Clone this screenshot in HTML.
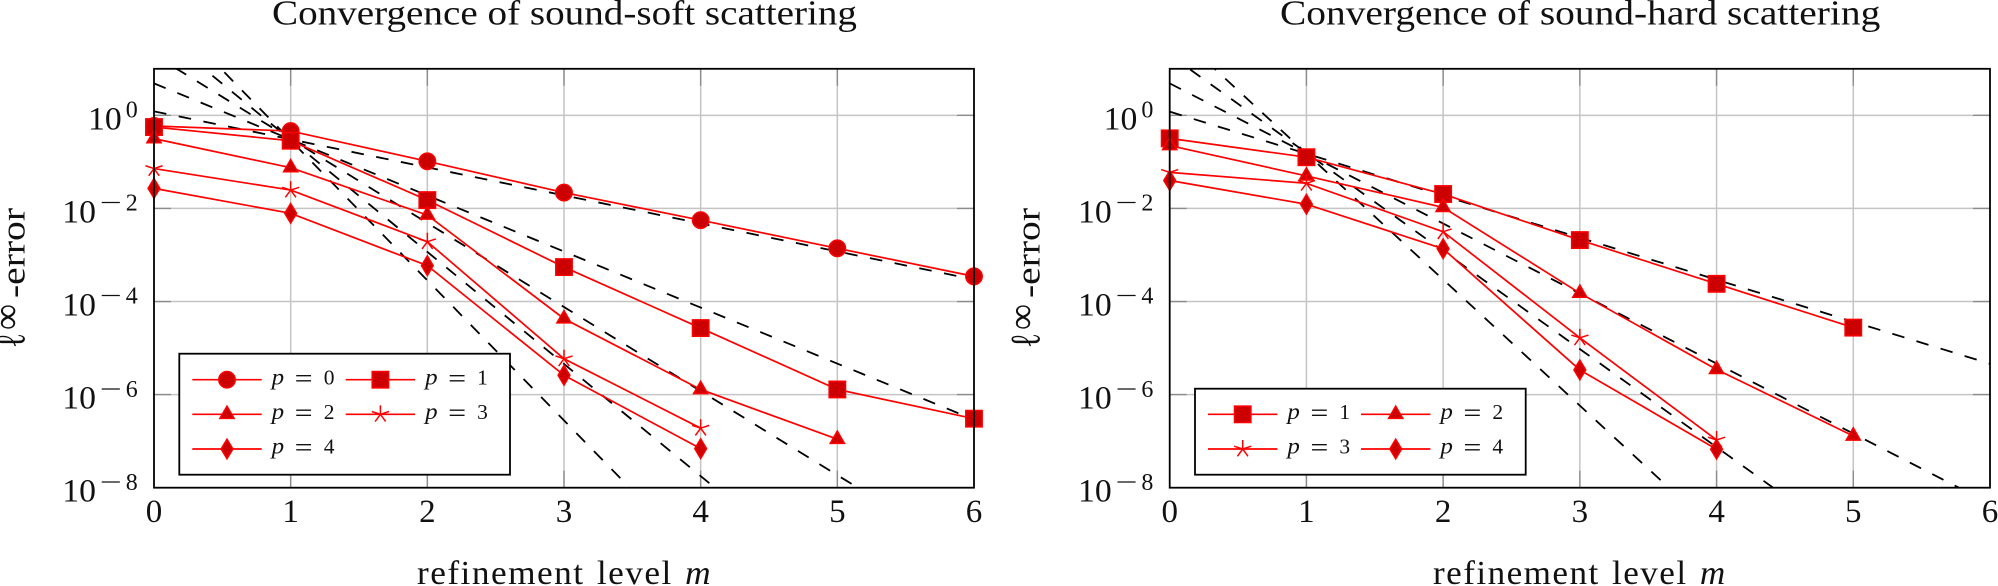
<!DOCTYPE html>
<html lang="en">
<head>
<meta charset="utf-8">
<title>Convergence of scattering</title>
<style>
html,body{margin:0;padding:0;background:#fff;overflow:hidden;}
body{width:1998px;height:586px;position:relative;}
svg{display:block;}
text{font-family:"Liberation Serif","DejaVu Serif",serif;fill:#111;}
.xtitle{position:absolute;top:558px;height:22.5px;padding-top:5.5px;overflow:hidden;line-height:20px;white-space:nowrap;font-family:"Liberation Serif","DejaVu Serif",serif;font-size:34px;color:#111;letter-spacing:1.4px;word-spacing:2px;transform-origin:0 50%;}
.xtitle span{display:inline-block;height:20px;line-height:20px;font-style:italic;}
</style>
</head>
<body>
<svg id="figure" xmlns="http://www.w3.org/2000/svg" width="1998" height="586" viewBox="0 0 1998 586"></svg>
<script>
// Shared axis data
const xTicks = [0, 1, 2, 3, 4, 5, 6];
const yTickExponents = [0, -2, -4, -6, -8];
const yDecadeMax = 1;
const yDecadeMin = -8;
const xMax = 6;

// Sound-soft scattering: error by refinement level
const softP0 = [5.9e-1, 4.6e-1, 1.03e-1, 2.19e-2, 5.6e-3, 1.39e-3, 3.47e-4];
const softP1 = [5.6e-1, 2.85e-1, 1.51e-2, 5.5e-4, 2.69e-5, 1.29e-6, 3.04e-7];
const softP2 = [3.16e-1, 7.5e-2, 7.2e-3, 4.27e-5, 1.29e-6, 1.10e-7];
const softP3 = [7.2e-2, 2.48e-2, 1.93e-3, 5.9e-6, 1.9e-7];
const softP4 = [2.7e-2, 7.85e-3, 5.9e-4, 2.6e-6, 6.9e-8];
// Sound-soft reference rates: value at level 0 and at level 6
const softRefStart = [1.22, 4.86, 19.95, 76.2, 298.5];
const softRefEnd = [2.98e-4, 2.9e-7, 2.91e-10, 2.72e-13, 2.6e-16];

// Sound-hard scattering: error by refinement level
const hardP1 = [3.2e-1, 1.26e-1, 2.04e-2, 2.09e-3, 2.4e-4, 2.75e-5];
const hardP2 = [2.24e-1, 5.0e-2, 1.05e-2, 1.51e-4, 3.47e-6, 1.29e-7];
const hardP3 = [5.96e-2, 3.47e-2, 3.16e-3, 1.66e-5, 1.06e-7];
const hardP4 = [3.98e-2, 1.23e-2, 1.36e-3, 3.39e-6, 6.7e-8];
// Sound-hard reference rates: value at level 0 and at level 6
const hardRefStart = [1.2, 4.86, 19.95, 77.6];
const hardRefEnd = [4.6e-6, 4.54e-9, 4.55e-12, 4.33e-15];

const NS = 'http://www.w3.org/2000/svg';
const RED = '#ff0000';
const FILL = '#cc0000';
const root = document.getElementById('figure');

function mk(parent, tag, attrs, txt) {
  const el = document.createElementNS(NS, tag);
  for (const k in attrs) el.setAttribute(k, attrs[k]);
  if (txt !== undefined) el.textContent = txt;
  parent.appendChild(el);
  return el;
}

function drawMarker(parent, kind, x, y) {
  const g = mk(parent, 'g', {fill: FILL, stroke: RED, 'stroke-width': 1.5});
  
  
  const r = 8.2;
  if (kind === 'circle') {
    mk(g, 'circle', {cx: x, cy: y, r: r});
  } else if (kind === 'square') {
    mk(g, 'rect', {x: x - r, y: y - r, width: 2 * r, height: 2 * r});
  } else if (kind === 'triangle') {
    const tx = r * 0.866;
    mk(g, 'polygon', {points: x + ',' + (y - r) + ' ' + (x + tx) + ',' + (y + r / 2) + ' ' + (x - tx) + ',' + (y + r / 2)});
  } else if (kind === 'diamond') {
    const dx = r * 0.72;
    const dy = r * 1.2;
    mk(g, 'polygon', {points: x + ',' + (y - dy) + ' ' + (x + dx) + ',' + y + ' ' + x + ',' + (y + dy) + ' ' + (x - dx) + ',' + y});
  } else {
    const arm = 9;
    for (let i = 0; i < 5; i++) {
      const a = (-90 + 72 * i) * Math.PI / 180;
      mk(g, 'line', {x1: x, y1: y, x2: x + arm * Math.cos(a), y2: y + arm * Math.sin(a), stroke: RED});
    }
  }
}

function drawPlot(cfg) {
  const plot = mk(root, 'g', {});
  
  

  const sx = v => cfg.left + (v / xMax) * (cfg.right - cfg.left);
  const sy = v => {
    const t = (yDecadeMax - Math.log10(v)) / (yDecadeMax - yDecadeMin);
    return cfg.top + t * (cfg.bottom - cfg.top);
  };
  const syDec = d => sy(Math.pow(10, d));

  const clip = mk(plot, 'clipPath', {id: cfg.name + '-clip'});
  mk(clip, 'rect', {x: cfg.left, y: cfg.top, width: cfg.right - cfg.left, height: cfg.bottom - cfg.top});

  // Title
  const title = mk(plot, 'text', {x: cfg.titleX, y: 24.5, 'font-size': 34.5, textLength: cfg.titleW, lengthAdjust: 'spacingAndGlyphs'}, cfg.title);
  
  

  // Grid
  const grid = mk(plot, 'g', {stroke: '#c4c4c4', 'stroke-width': 1.5});
  
  
  xTicks.forEach(t => {
    if (t > 0 && t < xMax) mk(grid, 'line', {x1: sx(t), x2: sx(t), y1: cfg.top, y2: cfg.bottom});
  });
  yTickExponents.forEach(e => {
    if (e > yDecadeMin) mk(grid, 'line', {x1: cfg.left, x2: cfg.right, y1: syDec(e), y2: syDec(e)});
  });

  // Tick marks
  const ticks = mk(plot, 'g', {stroke: '#8c8c8c', 'stroke-width': 1.4});
  
  
  const L = 17;
  xTicks.forEach(t => {
    if (t > 0 && t < xMax) {
      mk(ticks, 'line', {x1: sx(t), x2: sx(t), y1: cfg.top, y2: cfg.top + L});
      mk(ticks, 'line', {x1: sx(t), x2: sx(t), y1: cfg.bottom, y2: cfg.bottom - L});
    }
  });
  yTickExponents.forEach(e => {
    if (e > yDecadeMin) {
      mk(ticks, 'line', {x1: cfg.left, x2: cfg.left + L, y1: syDec(e), y2: syDec(e)});
      mk(ticks, 'line', {x1: cfg.right, x2: cfg.right - L, y1: syDec(e), y2: syDec(e)});
    }
  });

  // Reference rate lines, trimmed to the plot area with the dash phase preserved
  const refs = mk(plot, 'g', {'clip-path': 'url(#' + cfg.name + '-clip)', fill: 'none', stroke: '#000', 'stroke-width': 1.8, 'stroke-dasharray': '12.6 12.6'});
  
  
  cfg.refStart.forEach((v, i) => {
    const ax = sx(0);
    const ay = sy(v);
    const bx = sx(xMax);
    const by = sy(cfg.refEnd[i]);
    const dy = by - ay;
    const t0 = Math.max(0, (cfg.top - ay) / dy);
    const t1 = Math.min(1, (cfg.bottom - ay) / dy);
    const ln = mk(refs, 'line', {
      x1: ax + t0 * (bx - ax), y1: ay + t0 * dy,
      x2: ax + t1 * (bx - ax), y2: ay + t1 * dy,
      'stroke-dashoffset': t0 * Math.hypot(bx - ax, dy)
    });
    
    
  });

  // Series
  cfg.series.forEach(s => {
    const g = mk(plot, 'g', {});
    
    
    const pts = s.values.map((v, i) => sx(i) + ',' + sy(v)).join(' ');
    mk(g, 'polyline', {points: pts, fill: 'none', stroke: RED, 'stroke-width': 1.7});
    s.values.forEach((v, i) => drawMarker(g, s.marker, sx(i), sy(v)));
  });

  // Frame
  const frame = mk(plot, 'rect', {x: cfg.left, y: cfg.top, width: cfg.right - cfg.left, height: cfg.bottom - cfg.top, fill: 'none', stroke: '#000', 'stroke-width': 1.8});
  
  

  // X tick labels
  const xLabels = mk(plot, 'g', {'font-size': 33, 'text-anchor': 'middle'});
  
  
  xTicks.forEach(t => {
    const lab = mk(xLabels, 'text', {x: sx(t), y: 522}, String(t));
    
    
  });

  // Y tick labels
  const yLabels = mk(plot, 'g', {});
  
  
  const tickEnd = cfg.left - 16.3;
  yTickExponents.forEach(e => {
    const yy = syDec(e);
    const base = yy + 14;
    const expBase = yy + 2.2;
    const tenEnd = e === 0 ? tickEnd - 16 : tickEnd - 41.7;
    const ten = mk(yLabels, 'text', {x: tenEnd, y: base, 'font-size': 33, 'text-anchor': 'end', textLength: 33.7, lengthAdjust: 'spacingAndGlyphs'}, '10');
    
    
    mk(yLabels, 'text', {x: tickEnd, y: expBase, 'font-size': 24, 'text-anchor': 'end'}, String(Math.abs(e)));
    if (e < 0) {
      mk(yLabels, 'text', {x: tickEnd - 38, y: expBase, 'font-size': 24, textLength: 22, lengthAdjust: 'spacingAndGlyphs'}, '\u2212');
    }
  });

  // X axis title: a clipped HTML box that ends at the frame edge
  const xt = document.createElement('div');
  xt.className = 'xtitle';
  xt.style.left = cfg.xTitleX + 'px';
  
  
  xt.appendChild(document.createTextNode('refinement level '));
  const xtVar = document.createElement('span');
  xtVar.textContent = 'm';
  xt.appendChild(xtVar);
  document.body.appendChild(xt);
  xt.style.transform = 'scaleX(' + (cfg.xTitleW / xt.offsetWidth) + ')';

  // Y axis title in pieces: script l, raised infinity, then -error
  const yt = mk(plot, 'g', {});
  
  
  mk(yt, 'text', {transform: 'translate(' + cfg.yTitleX + ',348) rotate(-90)', 'font-size': 42, textLength: 15, lengthAdjust: 'spacingAndGlyphs'}, '\u2113');
  mk(yt, 'text', {transform: 'translate(' + (cfg.yTitleX - 5.5) + ',330) rotate(-90)', 'font-size': 38, textLength: 26, lengthAdjust: 'spacingAndGlyphs'}, '\u221E');
  mk(yt, 'text', {transform: 'translate(' + cfg.yTitleX + ',298) rotate(-90)', 'font-size': 34, textLength: 90, lengthAdjust: 'spacingAndGlyphs'}, '-error');

  // Legend
  const lg = mk(plot, 'g', {});
  
  
  mk(lg, 'rect', {x: cfg.legend.x, y: cfg.legend.y, width: cfg.legend.w, height: cfg.legend.h, fill: '#fff', stroke: '#000', 'stroke-width': 1.8});
  cfg.series.forEach((s, i) => {
    const col = i % 2;
    const row = Math.floor(i / 2);
    const x0 = cfg.legend.cols[col];
    const y0 = cfg.legend.rows[row];
    const entry = mk(lg, 'g', {});
    
    
    mk(entry, 'line', {x1: x0, x2: x0 + 69.4, y1: y0, y2: y0, stroke: RED, 'stroke-width': 1.7});
    drawMarker(entry, s.marker, x0 + 34.7, y0);
    mk(entry, 'text', {x: x0 + 79.4, y: y0 + 4.6, 'font-size': 23, 'font-style': 'italic', textLength: 12.5, lengthAdjust: 'spacingAndGlyphs'}, 'p');
    mk(entry, 'text', {x: x0 + 102.4, y: y0 + 7.2, 'font-size': 26, textLength: 18, lengthAdjust: 'spacingAndGlyphs'}, '=');
    mk(entry, 'text', {x: x0 + 131.4, y: y0 + 4.6, 'font-size': 21.5}, String(s.p));
  });
}

drawPlot({
  name: 'sound-soft-plot',
  title: 'Convergence of sound-soft scattering',
  titleX: 272, titleW: 585,
  left: 154, right: 974, top: 68.8, bottom: 487.7,
  xTitleX: 416.7, xTitleW: 295, yTitleX: 24.5,
  refStart: softRefStart, refEnd: softRefEnd,
  series: [
    {p: 0, marker: 'circle', values: softP0},
    {p: 1, marker: 'square', values: softP1},
    {p: 2, marker: 'triangle', values: softP2},
    {p: 3, marker: 'star', values: softP3},
    {p: 4, marker: 'diamond', values: softP4}
  ],
  legend: {x: 179.3, y: 353.7, w: 330.7, h: 121, cols: [192.3, 345.7], rows: [379.7, 414.3, 449]}
});

drawPlot({
  name: 'sound-hard-plot',
  title: 'Convergence of sound-hard scattering',
  titleX: 1280, titleW: 600.3,
  left: 1169.7, right: 1990, top: 68.8, bottom: 487.7,
  xTitleX: 1432.7, xTitleW: 293.6, yTitleX: 1039.5,
  refStart: hardRefStart, refEnd: hardRefEnd,
  series: [
    {p: 1, marker: 'square', values: hardP1},
    {p: 2, marker: 'triangle', values: hardP2},
    {p: 3, marker: 'star', values: hardP3},
    {p: 4, marker: 'diamond', values: hardP4}
  ],
  legend: {x: 1195, y: 388.7, w: 330.7, h: 86, cols: [1208, 1361], rows: [414.3, 449]}
});
</script>
</body>
</html>
